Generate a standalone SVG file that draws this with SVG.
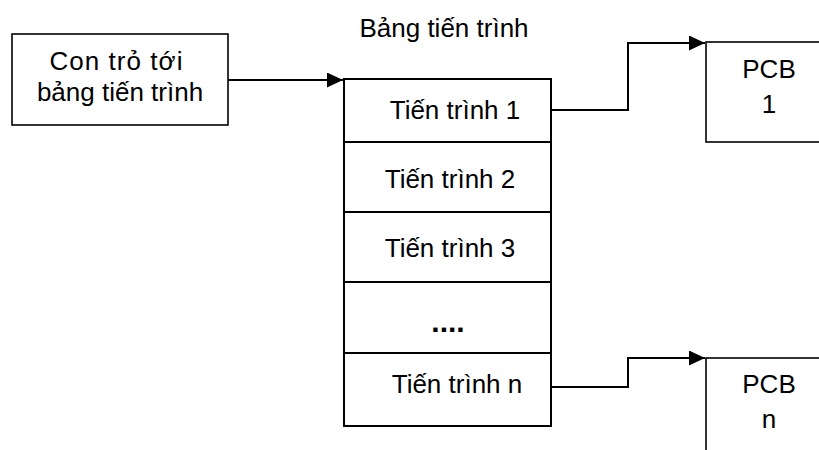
<svg xmlns="http://www.w3.org/2000/svg" width="819" height="450" viewBox="0 0 819 450">
<defs>
<style>
text{font-family:"Liberation Sans",Arial,sans-serif;font-size:26px;fill:#000;text-anchor:middle}
.dots{font-weight:bold;font-size:30px}
.box{fill:#fff;stroke:#000;stroke-width:1.6}
.tbl{fill:none;stroke:#000;stroke-width:2}
.conn{fill:none;stroke:#000;stroke-width:2}
</style>
<marker id="arr" viewBox="0 0 16 15" refX="16" refY="7.5" markerWidth="16" markerHeight="15" markerUnits="userSpaceOnUse" orient="auto">
<path d="M0,0 L16,7.5 L0,15 Z" fill="#000"/>
</marker>
</defs>
<rect width="819" height="450" fill="#fff"/>
<g id="pointer">
<rect class="box" x="12" y="34" width="216" height="91"/>
<text x="116" y="70" textLength="133">Con trỏ tới</text>
<text x="120" y="101">bảng tiến trình</text>
</g>
<g id="table">
<text x="444" y="37">Bảng tiến trình</text>
<rect class="tbl" x="344" y="79" width="207" height="347"/>
<line class="tbl" x1="344" y1="142" x2="551" y2="142"/>
<line class="tbl" x1="344" y1="212" x2="551" y2="212"/>
<line class="tbl" x1="344" y1="282" x2="551" y2="282"/>
<line class="tbl" x1="344" y1="353" x2="551" y2="353"/>
<text x="455" y="119">Tiến trình 1</text>
<text x="450" y="188">Tiến trình 2</text>
<text x="450" y="257">Tiến trình 3</text>
<text class="dots" x="448" y="332">....</text>
<text x="457" y="393">Tiến trình n</text>
</g>
<g id="pcb1">
<rect class="box" x="706" y="42" width="130" height="100"/>
<text x="769" y="78">PCB</text>
<text x="769" y="113">1</text>
</g>
<g id="pcbn">
<rect class="box" x="706" y="358" width="130" height="120"/>
<text x="769" y="393">PCB</text>
<text x="769" y="428">n</text>
</g>
<g id="connectors">
<path class="conn" d="M228,80 L343,80" marker-end="url(#arr)"/>
<path class="conn" d="M551,110 L628,110 L628,43 L705,43" marker-end="url(#arr)"/>
<path class="conn" d="M551,387 L628,387 L628,358 L705,358" marker-end="url(#arr)"/>
</g>
</svg>
